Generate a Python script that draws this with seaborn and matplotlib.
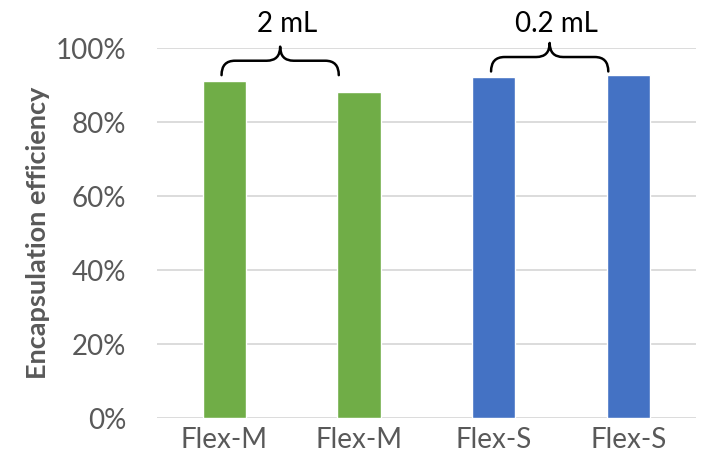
import numpy as np
import pandas as pd
import matplotlib
matplotlib.use("Agg")
import matplotlib.pyplot as plt
from matplotlib.path import Path
from matplotlib.patches import PathPatch
import seaborn as sns

# Data
sample_ids = ["M1", "M2", "S1", "S2"]
tick_labels = ["Flex-M", "Flex-M", "Flex-S", "Flex-S"]
efficiency = [91.1, 88.1, 92.2, 92.7]
volumes = ["2 mL", "2 mL", "0.2 mL", "0.2 mL"]
bar_colors = ["#70AD47", "#70AD47", "#4472C4", "#4472C4"]

group_labels = ["2 mL", "0.2 mL"]
group_members = [(0, 1), (2, 3)]

df = pd.DataFrame({"sample": sample_ids, "eff": efficiency, "volume": volumes})

sns.set_style("white")
plt.rcParams["font.family"] = ["Lato", "DejaVu Sans"]

fig = plt.figure(figsize=(7.13, 4.72), dpi=100)
ax = fig.add_axes([0.220, 0.114, 0.756, 0.784])

sns.barplot(data=df, x="sample", y="eff", hue="sample", palette=bar_colors,
            width=0.32, legend=False, ax=ax, saturation=1)

ax.set_ylim(0, 100)
ax.set_yticks(np.arange(0, 101, 20))
ax.set_yticklabels([f"{v}%" for v in range(0, 101, 20)])
ax.set_xticks(range(len(tick_labels)))
ax.set_xticklabels(tick_labels)
ax.set_xlim(-0.5, 3.5)
ax.yaxis.grid(True, color="#D9D9D9", linewidth=1.3)
ax.set_axisbelow(True)
for s in ax.spines.values():
    s.set_visible(False)
ax.tick_params(axis="both", length=0, labelsize=20, labelcolor="#595959")
ax.tick_params(axis="y", pad=22)
ax.tick_params(axis="x", pad=6)
ax.set_xlabel("")
ax.set_ylabel("Encapsulation efficiency", fontsize=19.5, fontweight="bold",
              color="#595959", labelpad=4)


def brace(ax, x0, x1, xm, y0, y1, ytip, r=0.1):
    verts = [(x0, y0), (x0, y1), (x0 + r, y1),
             (xm - r, y1),
             (xm, y1), (xm, ytip),
             (xm, y1), (xm + r, y1),
             (x1 - r, y1),
             (x1, y1), (x1, y0)]
    codes = [Path.MOVETO, Path.CURVE3, Path.CURVE3,
             Path.LINETO,
             Path.CURVE3, Path.CURVE3,
             Path.CURVE3, Path.CURVE3,
             Path.LINETO,
             Path.CURVE3, Path.CURVE3]
    ax.add_patch(PathPatch(Path(verts, codes), fill=False, lw=1.8,
                           edgecolor="black", clip_on=False,
                           capstyle="round", joinstyle="round"))


offsets = [0.0, 1.0]
for (a, b), lab, dy in zip(group_members, group_labels, offsets):
    x0 = a - 0.02
    x1 = b - 0.15
    xm = (x0 + x1) / 2
    brace(ax, x0, x1, xm, 92.7 + dy, 96.6 + dy, 100.4 + dy)
    ax.text(xm + 0.05, 106.5, lab, ha="center", va="center", fontsize=20,
            color="black", clip_on=False)

plt.savefig("out.png", dpi=100)
